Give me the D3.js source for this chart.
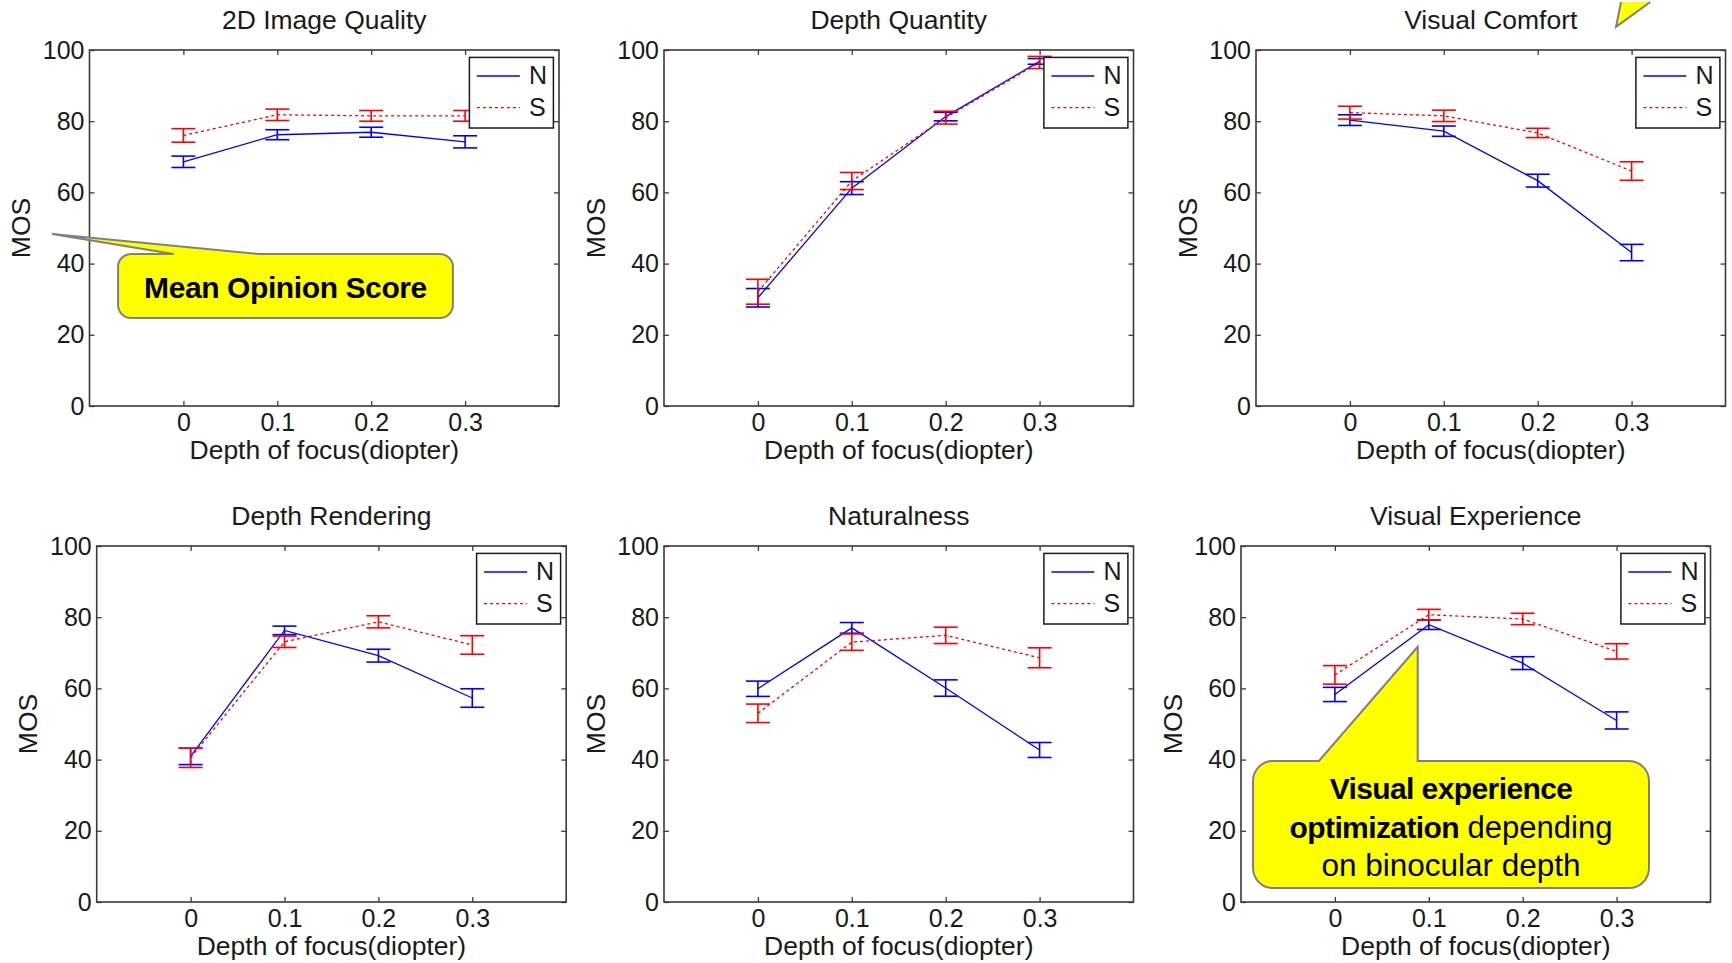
<!DOCTYPE html>
<html>
<head>
<meta charset="utf-8">
<script src="https://cdn.jsdelivr.net/npm/d3@7"></script>
<style>
  body { margin: 0; background: #fff; }
  svg { display: block; font-family: "Liberation Sans", Arial, sans-serif; }
</style>
</head>
<body>
<svg id="chart" width="1732" height="963"></svg>
<script>
// x positions and axis ticks
const depths = [0, 0.1, 0.2, 0.3];
const xTicks = [0, 0.1, 0.2, 0.3];
const yTicks = [0, 20, 40, 60, 80, 100];
const seriesNames = ["N", "S"];

// 2D Image Quality
const qualityN = [68.6, 76.2, 76.9, 74.2];
const qualityNErr = [1.6, 1.4, 1.4, 1.7];
const qualityS = [76.0, 81.8, 81.5, 81.5];
const qualitySErr = [1.9, 1.6, 1.5, 1.5];

// Depth Quantity
const quantityN = [30.4, 61.2, 81.3, 96.8];
const quantityNErr = [2.6, 1.8, 1.2, 0.8];
const quantityS = [32.1, 63.2, 81.0, 96.5];
const quantitySErr = [3.5, 2.4, 1.8, 1.7];

// Visual Comfort
const comfortN = [80.3, 77.2, 63.3, 43.1];
const comfortNErr = [1.5, 1.45, 1.8, 2.3];
const comfortS = [82.4, 81.5, 76.7, 66.0];
const comfortSErr = [1.8, 1.6, 1.3, 2.6];

// Depth Rendering
const renderingN = [40.9, 76.3, 69.2, 57.3];
const renderingNErr = [2.3, 1.2, 1.8, 2.6];
const renderingS = [40.5, 73.1, 78.7, 72.2];
const renderingSErr = [2.7, 1.6, 1.7, 2.6];

// Naturalness
const naturalN = [59.9, 77.0, 60.1, 42.7];
const naturalNErr = [2.15, 1.5, 2.3, 2.1];
const naturalS = [53.0, 73.0, 74.9, 68.6];
const naturalSErr = [2.6, 2.3, 2.3, 2.8];

// Visual Experience
const experienceN = [58.3, 77.9, 67.1, 51.0];
const experienceNErr = [2.0, 1.35, 1.8, 2.4];
const experienceS = [63.8, 80.7, 79.5, 70.4];
const experienceSErr = [2.6, 1.5, 1.6, 2.15];

const W = 469.5, H = 356;
const FONT = 25;
const panels = [
  { title: "2D Image Quality", left: 89.5, top: 50, n: qualityN, nErr: qualityNErr, s: qualityS, sErr: qualitySErr },
  { title: "Depth Quantity", left: 664, top: 50, n: quantityN, nErr: quantityNErr, s: quantityS, sErr: quantitySErr },
  { title: "Visual Comfort", left: 1256, top: 50, n: comfortN, nErr: comfortNErr, s: comfortS, sErr: comfortSErr },
  { title: "Depth Rendering", left: 96.7, top: 546, n: renderingN, nErr: renderingNErr, s: renderingS, sErr: renderingSErr },
  { title: "Naturalness", left: 664, top: 546, n: naturalN, nErr: naturalNErr, s: naturalS, sErr: naturalSErr },
  { title: "Visual Experience", left: 1241, top: 546, n: experienceN, nErr: experienceNErr, s: experienceS, sErr: experienceSErr }
];

const svg = d3.select("#chart");
svg.append("rect").attr("width", 1732).attr("height", 963).attr("fill", "#fff");

const styles = [
  { color: "#0000ff", dash: null },
  { color: "#ff0000", dash: "3,3" }
];
const capHalf = 12;
const stretch = 1.06; // reference lettering runs a bit wider than Liberation Sans
const scales = [];

panels.forEach((p, pi) => {
  const g = svg.append("g").attr("transform", `translate(${p.left},${p.top})`);
  const x = d3.scaleLinear().domain([-0.1, 0.4]).range([0, W]);
  const y = d3.scaleLinear().domain([0, 100]).range([H, 0]);
  scales.push({ x, y, left: p.left, top: p.top });

  // axes with inward ticks, box style
  const fmt = d => String(d);
  const styleAxis = a => {
    a.attr("color", "#3a3a3a").attr("font-family", null).attr("font-size", FONT);
    a.select(".domain").remove();
    a.selectAll(".tick line").attr("stroke-width", 1.3);
    a.selectAll("text").attr("fill", "#1a1a1a");
  };
  g.append("g").attr("transform", `translate(0,${H})`)
    .call(d3.axisBottom(x).tickValues(xTicks).tickFormat(fmt).tickSizeInner(-5).tickSizeOuter(0).tickPadding(7))
    .call(styleAxis);
  g.append("g")
    .call(d3.axisTop(x).tickValues(xTicks).tickFormat("").tickSizeInner(-5).tickSizeOuter(0))
    .call(styleAxis);
  g.append("g")
    .call(d3.axisLeft(y).tickValues(yTicks).tickFormat(fmt).tickSizeInner(-5).tickSizeOuter(0).tickPadding(5))
    .call(styleAxis);
  g.append("g").attr("transform", `translate(${W},0)`)
    .call(d3.axisRight(y).tickValues(yTicks).tickFormat("").tickSizeInner(-5).tickSizeOuter(0))
    .call(styleAxis);

  g.append("rect").attr("width", W).attr("height", H)
    .attr("fill", "none").attr("stroke", "#3a3a3a").attr("stroke-width", 1.6);

  // labels
  g.append("text").attr("transform", `translate(${W / 2},-20.7) scale(${stretch},1)`)
    .attr("text-anchor", "middle").attr("font-size", FONT).attr("fill", "#1a1a1a").text(p.title);
  g.append("text").attr("transform", `translate(${x(0.15)},${H + 53}) scale(${stretch},1)`)
    .attr("text-anchor", "middle").attr("font-size", FONT).attr("fill", "#1a1a1a").text("Depth of focus(diopter)");
  g.append("text").attr("transform", `translate(-59.5,${H / 2}) rotate(-90) scale(${stretch},1)`)
    .attr("text-anchor", "middle").attr("font-size", FONT).attr("fill", "#1a1a1a").text("MOS");

  // series: lines + error bars
  const line = d3.line().x((d, i) => x(depths[i])).y(d => y(d));
  [[p.n, p.nErr], [p.s, p.sErr]].forEach(([vals, errs], si) => {
    const st = styles[si];
    const sg = g.append("g").attr("stroke", st.color).attr("fill", "none");
    sg.append("path").datum(vals).attr("d", line)
      .attr("stroke-width", 1.3).attr("stroke-dasharray", st.dash);
    vals.forEach((v, i) => {
      const cx = x(depths[i]), y0 = y(v - errs[i]), y1 = y(v + errs[i]);
      sg.append("line").attr("x1", cx).attr("x2", cx).attr("y1", y0).attr("y2", y1).attr("stroke-width", 1.6);
      [y0, y1].forEach(yy => {
        sg.append("line").attr("x1", cx - capHalf).attr("x2", cx + capHalf)
          .attr("y1", yy).attr("y2", yy).attr("stroke-width", 1.6);
      });
    });
  });

  // legend
  const lg = g.append("g").attr("transform", `translate(${W - 5.6 - 84},7.4)`);
  lg.append("rect").attr("width", 84).attr("height", 70.6)
    .attr("fill", "#fff").attr("stroke", "#1a1a1a").attr("stroke-width", 1.5);
  seriesNames.forEach((name, si) => {
    const ly = 18.6 + si * 31.7;
    lg.append("line").attr("x1", 7.5).attr("x2", 50.5).attr("y1", ly).attr("y2", ly)
      .attr("stroke", styles[si].color).attr("stroke-width", 1.3).attr("stroke-dasharray", styles[si].dash);
    lg.append("text").attr("x", 59.5).attr("y", ly + 8.2).attr("font-size", FONT)
      .attr("fill", "#1a1a1a").text(name);
  });
});

// callouts (positioned in panel data coordinates)
function callout(sc, box, tail, radius) {
  const X = d => sc.left + sc.x(d), Y = v => sc.top + sc.y(v);
  const x0 = X(box[0]), x1 = X(box[1]), y0 = Y(box[2]), y1 = Y(box[3]);
  const r = radius;
  const p = d3.path();
  p.moveTo(x0 + r, y0);
  p.lineTo(X(tail[0]), y0);
  p.lineTo(X(tail[2]), Y(tail[3]));
  p.lineTo(X(tail[1]), y0);
  p.lineTo(x1 - r, y0);
  p.arcTo(x1, y0, x1, y0 + r, r);
  p.lineTo(x1, y1 - r);
  p.arcTo(x1, y1, x1 - r, y1, r);
  p.lineTo(x0 + r, y1);
  p.arcTo(x0, y1, x0, y1 - r, r);
  p.lineTo(x0, y0 + r);
  p.arcTo(x0, y0, x0 + r, y0, r);
  p.closePath();
  svg.append("path").attr("d", p.toString())
    .attr("fill", "#ffff00").attr("stroke", "#808080").attr("stroke-width", 2);
  return { cx: (x0 + x1) / 2 };
}

// "Mean Opinion Score" in panel 1
const c1 = callout(scales[0], [-0.0696, 0.287, 42.7, 24.7], [-0.0104, 0.0806, -0.1399, 48.3], 13);
svg.append("text").attr("x", c1.cx).attr("y", 297.7).attr("text-anchor", "middle")
  .attr("font-size", 30).attr("font-weight", "bold").attr("letter-spacing", -0.4)
  .attr("fill", "#000").text("Mean Opinion Score");

// visual experience callout in panel 6
const c2 = callout(scales[5], [-0.0872, 0.3345, 39.6, 3.9], [-0.017, 0.0882, 0.0882, 71.7], 20);
const t2 = svg.append("text").attr("text-anchor", "middle").attr("font-size", 30).attr("fill", "#000");
t2.append("tspan").attr("x", c2.cx).attr("y", 799.3).attr("font-weight", "bold")
  .attr("letter-spacing", -0.6).text("Visual experience");
const l2 = t2.append("tspan").attr("x", c2.cx).attr("y", 837.7);
l2.append("tspan").attr("font-weight", "bold").attr("letter-spacing", -0.6).text("optimization");
l2.append("tspan").attr("font-size", 31).text(" depending");
t2.append("tspan").attr("x", c2.cx).attr("y", 875.5).attr("font-size", 31.5).text("on binocular depth");

// tail of an off-screen callout above panel 3
const sc3 = scales[2];
const tailPts = [[0.2887, 113.5], [0.2834, 106.5], [0.3199, 113.5]]
  .map(([d, v]) => [sc3.left + sc3.x(d), sc3.top + sc3.y(v)]);
svg.append("path").attr("d", d3.line()(tailPts))
  .attr("fill", "#ffff00").attr("stroke", "#808080").attr("stroke-width", 2);
</script>
</body>
</html>
